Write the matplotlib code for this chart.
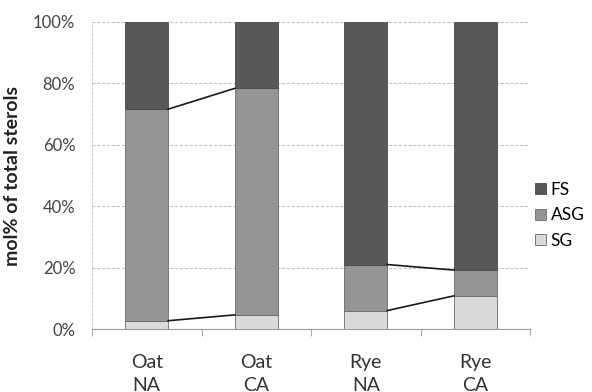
import numpy as np
import matplotlib.pyplot as plt
from matplotlib.ticker import PercentFormatter

plt.rcParams['font.family'] = ['Lato', 'DejaVu Sans']

categories = ["Oat\nNA", "Oat\nCA", "Rye\nNA", "Rye\nCA"]
sg = [2.7, 4.6, 6.0, 10.8]
asg = [68.9, 73.8, 15.0, 8.4]
fs = [28.4, 21.6, 79.0, 80.8]

colors = {"FS": "#585858", "ASG": "#959595", "SG": "#dadada"}

fig = plt.figure(figsize=(5.92, 3.92), dpi=100)
ax = fig.add_axes([92 / 592, 63 / 392, 438 / 592, 307 / 392])

x = np.arange(len(categories))
w = 0.39
sg = np.array(sg)
asg = np.array(asg)
fs = np.array(fs)

b_sg = ax.bar(x, sg, w, color=colors["SG"], edgecolor="#6a6a6a", linewidth=0.6, label="SG", zorder=3)
b_asg = ax.bar(x, asg, w, bottom=sg, color=colors["ASG"], edgecolor="#6a6a6a", linewidth=0.6, label="ASG", zorder=3)
b_fs = ax.bar(x, fs, w, bottom=sg + asg, color=colors["FS"], edgecolor="#4a4a4a", linewidth=0.6, label="FS", zorder=3)

# series lines within each pair
for i in (0, 2):
    for top in (sg, sg + asg):
        ax.plot([x[i] + w / 2, x[i + 1] - w / 2], [top[i], top[i + 1]],
                color="#1a1a1a", linewidth=1.2, zorder=4)

ax.set_xlim(-0.5, len(categories) - 0.5)
ax.set_ylim(0, 100)
ax.set_yticks(np.arange(0, 101, 20))
ax.yaxis.set_major_formatter(PercentFormatter(decimals=0))
ax.set_xticks(x)
ax.set_xticklabels(categories, fontsize=14, color="#333333", linespacing=1.45)
ax.tick_params(axis="x", length=0, pad=18)
ax.set_xticks(np.arange(-0.5, len(categories)), minor=True)
ax.tick_params(axis="x", which="minor", length=5, color="#999999")
ax.tick_params(axis="y", length=0, labelsize=12, colors="#444444", pad=12)

ax.grid(axis="y", color="#b8b8b8", linestyle=(0, (3, 2)), linewidth=0.7, zorder=0)
for side in ("top", "right"):
    ax.spines[side].set_visible(False)
ax.spines["left"].set_color("#d0d0d0")
ax.spines["left"].set_linestyle((0, (2, 2)))
ax.spines["bottom"].set_color("#999999")

ax.set_ylabel("mol% of total sterols", fontsize=14, fontweight="bold", color="#222222", labelpad=9)

handles = [b_fs, b_asg, b_sg]
leg = ax.legend(handles, ["FS", "ASG", "SG"], loc="center left", bbox_to_anchor=(1.0, 0.37),
                frameon=False, fontsize=12.5, handlelength=0.6, handleheight=0.6,
                handletextpad=0.3, labelspacing=0.55, borderaxespad=0.1, borderpad=0.2)

fig.savefig("out.png", dpi=100)
